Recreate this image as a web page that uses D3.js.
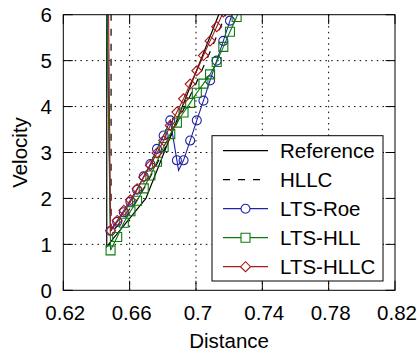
<!DOCTYPE html>
<html><head><meta charset="utf-8">
<script src="https://cdn.jsdelivr.net/npm/d3@7"></script>
<style>
html,body{margin:0;padding:0;background:#fff;}
text{font-family:"Liberation Sans",Arial,sans-serif;}
</style></head>
<body>
<svg id="chart" width="417" height="354"></svg>
<script>
// ---- data ----
const xTicks = [0.62, 0.66, 0.70, 0.74, 0.78, 0.82];
const yTicks = [0, 1, 2, 3, 4, 5, 6];
const xTickLabels = ["0.62", "0.66", "0.7", "0.74", "0.78", "0.82"];
const yTickLabels = ["0", "1", "2", "3", "4", "5", "6"];
const seriesNames = ["Reference", "HLLC", "LTS-Roe", "LTS-HLL", "LTS-HLLC"];

const refX = [0.6462, 0.6462, 0.6698, 0.7137, 0.7160];
const refV = [7.0, 0.95, 2.00, 6.00, 6.25];

const hllcX = [0.6488, 0.6488, 0.6600, 0.6700, 0.6800, 0.6900, 0.7000, 0.7080, 0.7185];
const hllcV = [7.0, 1.25, 1.70, 2.30, 3.00, 3.75, 4.50, 5.15, 6.05];

// shock (near-vertical) position for each LTS series, where its line leaves the top
const ltsShockX = [0.6465, 0.6463, 0.6473];

const roeX = [0.6485, 0.6525, 0.6565, 0.6605, 0.6645, 0.6685, 0.6725, 0.6765, 0.6805, 0.6845,
              0.6885, 0.6895, 0.6925, 0.6965, 0.7005, 0.7045, 0.7085, 0.7125, 0.7165, 0.7205, 0.7245];
const roeV = [1.29, 1.49, 1.70, 1.93, 2.19, 2.48, 2.75, 3.08, 3.37, 3.70,
              2.83, 2.61, 2.83, 3.26, 3.70, 4.13, 4.57, 5.00, 5.43, 5.87, 6.30];
const roeUnmarkedX = [0.6895];

const hllX = [0.6485, 0.6525, 0.6565, 0.6605, 0.6645, 0.6685, 0.6725, 0.6765, 0.6805, 0.6845,
              0.6885, 0.6925, 0.6965, 0.7005, 0.7045, 0.7085, 0.7125, 0.7165, 0.7205, 0.7245, 0.7285];
const hllV = [0.87, 1.16, 1.47, 1.72, 1.95, 2.22, 2.50, 2.80, 3.12, 3.40,
              3.65, 3.87, 4.08, 4.30, 4.50, 4.70, 4.97, 5.30, 5.63, 5.95, 6.30];

const lhllcX = [0.6485, 0.6525, 0.6565, 0.6605, 0.6645, 0.6685, 0.6725, 0.6765, 0.6805, 0.6845,
                0.6885, 0.6925, 0.6965, 0.7005, 0.7045, 0.7085, 0.7125, 0.7165];
const lhllcV = [1.30, 1.52, 1.74, 1.97, 2.21, 2.46, 2.72, 2.99, 3.26, 3.59,
                3.88, 4.17, 4.49, 4.78, 5.11, 5.43, 5.74, 6.06];

// ---- layout ----
const L = 63.3, R = 395, T = 14.7, B = 290.3;
const FS = "20.5px";
const colors = {ref: "#000", hllc: "#000", roe: "#2222a8", hll: "#0c7a0c", lhllc: "#a51a1a"};

const svg = d3.select("#chart");
const x = d3.scaleLinear().domain([0.62, 0.82]).range([L, R]);
const y = d3.scaleLinear().domain([0, 6]).range([B, T]);

svg.append("defs").append("clipPath").attr("id", "clip")
  .append("rect").attr("x", L).attr("y", T).attr("width", R - L).attr("height", B - T);

// grid
const grid = svg.append("g");
grid.selectAll(".gx").data(xTicks.slice(1, -1)).join("line")
  .attr("x1", d => x(d)).attr("x2", d => x(d)).attr("y1", T).attr("y2", B)
  .attr("stroke", "#000").attr("stroke-width", 1).attr("stroke-dasharray", "1.5,4.2");
grid.selectAll(".gy").data(yTicks.slice(1, -1)).join("line")
  .attr("y1", d => y(d)).attr("y2", d => y(d)).attr("x1", L).attr("x2", R)
  .attr("stroke", "#000").attr("stroke-width", 1).attr("stroke-dasharray", "1.5,4.2");

const plot = svg.append("g").attr("clip-path", "url(#clip)");
const line = d3.line().x(d => x(d[0])).y(d => y(d[1]));
const zip = (a, b) => a.map((v, i) => [v, b[i]]);

// Reference
plot.append("path").attr("d", line(zip(refX, refV)))
  .attr("fill", "none").attr("stroke", colors.ref).attr("stroke-width", 1.2);
// HLLC dashed
plot.append("path").attr("d", line(zip(hllcX, hllcV)))
  .attr("fill", "none").attr("stroke", colors.hllc).attr("stroke-width", 1.2)
  .attr("stroke-dasharray", "7,8");

const circ = d3.symbol().type(d3.symbolCircle).size(Math.PI * 4.5 * 4.5);
const sq = d3.symbol().type(d3.symbolSquare).size(9 * 9);
function diamondPath(r) { return `M0,${-r}L${r},0L0,${r}L${-r},0Z`; }

function drawLTS(xs, vs, shockX, color, sym, unmarked) {
  const pts = zip(xs, vs);
  const ln = [[shockX, 6]].concat(pts);
  plot.append("path").attr("d", line(ln))
    .attr("fill", "none").attr("stroke", color).attr("stroke-width", 1.1);
  plot.selectAll(null).data(pts.filter(p => !unmarked.includes(p[0]))).join("path")
    .attr("transform", d => `translate(${x(d[0])},${y(d[1])})`)
    .attr("d", sym).attr("fill", "none").attr("stroke", color).attr("stroke-width", 1.1);
}
drawLTS(roeX, roeV, ltsShockX[0], colors.roe, circ(), roeUnmarkedX);
drawLTS(hllX, hllV, ltsShockX[1], colors.hll, sq(), []);
drawLTS(lhllcX, lhllcV, ltsShockX[2], colors.lhllc, diamondPath(5), []);

// legend
const lg = svg.append("g");
lg.append("rect").attr("x", 212).attr("y", 135.7).attr("width", 171).attr("height", 145.3)
  .attr("fill", "#fff").attr("stroke", "#000").attr("stroke-width", 1);
const legendStyles = [
  {c: colors.ref, dash: null, sym: null},
  {c: colors.hllc, dash: "7,8", sym: null},
  {c: colors.roe, dash: null, sym: circ()},
  {c: colors.hll, dash: null, sym: sq()},
  {c: colors.lhllc, dash: null, sym: diamondPath(5)}
];
seriesNames.forEach((name, i) => {
  const yy = 150.7 + 29 * i;
  const s = legendStyles[i];
  lg.append("line").attr("x1", 223).attr("x2", 268).attr("y1", yy).attr("y2", yy)
    .attr("stroke", s.c).attr("stroke-width", 1.2).attr("stroke-dasharray", s.dash);
  if (s.sym) lg.append("path").attr("transform", `translate(245.5,${yy})`).attr("d", s.sym)
    .attr("fill", "#fff").attr("stroke", s.c).attr("stroke-width", 1.1);
  lg.append("text").attr("x", 280).attr("y", yy).attr("dy", "0.36em")
    .attr("font-size", FS).attr("fill", "#000").text(name);
});

// frame and ticks (mirrored)
const tl = 9.5;
const fr = svg.append("g").attr("stroke", "#000").attr("stroke-width", 1);
fr.append("rect").attr("x", L).attr("y", T).attr("width", R - L).attr("height", B - T).attr("fill", "none");
xTicks.forEach(t => {
  fr.append("line").attr("x1", x(t)).attr("x2", x(t)).attr("y1", B).attr("y2", B - tl);
  fr.append("line").attr("x1", x(t)).attr("x2", x(t)).attr("y1", T).attr("y2", T + tl);
});
yTicks.forEach(t => {
  fr.append("line").attr("y1", y(t)).attr("y2", y(t)).attr("x1", L).attr("x2", L + tl);
  fr.append("line").attr("y1", y(t)).attr("y2", y(t)).attr("x1", R).attr("x2", R - tl);
});

// tick labels
svg.append("g").selectAll("text").data(xTicks).join("text")
  .attr("x", d => x(d) + 2).attr("y", 320).attr("text-anchor", "middle")
  .attr("font-size", FS).text((d, i) => xTickLabels[i]);
svg.append("g").selectAll("text").data(yTicks).join("text")
  .attr("x", 52).attr("y", d => y(d)).attr("dy", "0.36em").attr("text-anchor", "end")
  .attr("font-size", FS).text((d, i) => yTickLabels[i]);

// axis titles
svg.append("text").attr("x", (L + R) / 2).attr("y", 348).attr("text-anchor", "middle")
  .attr("font-size", FS).text("Distance");
svg.append("text").attr("transform", `translate(26.5,${(T + B) / 2}) rotate(-90)`)
  .attr("text-anchor", "middle").attr("font-size", FS).text("Velocity");
</script>
</body></html>
